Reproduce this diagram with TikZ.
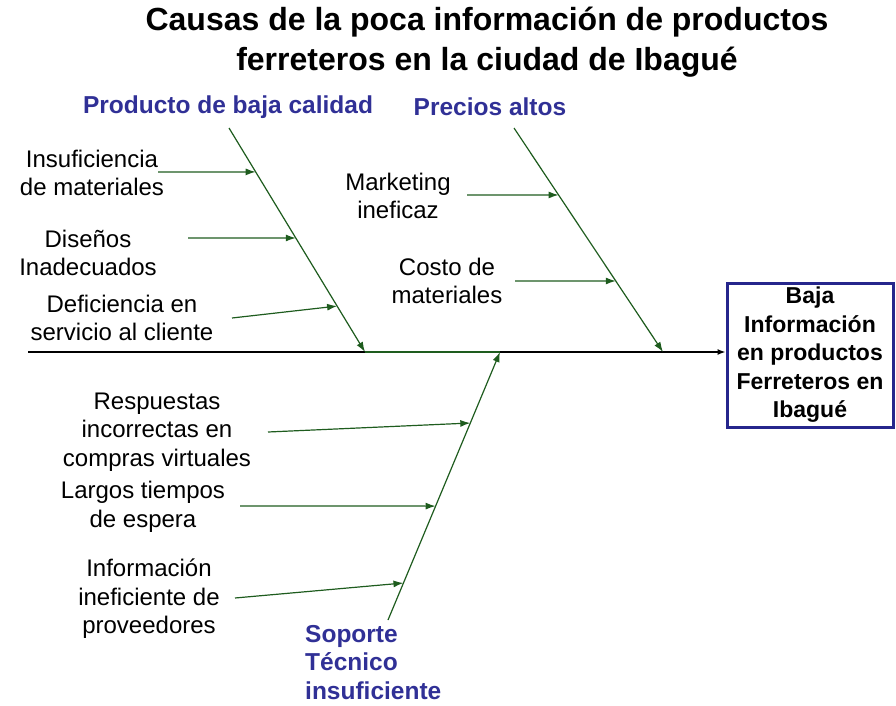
\documentclass[tikz,border=0pt]{standalone}
\usepackage{fontspec}
\setmainfont{Liberation Sans}
\usetikzlibrary{arrows.meta,calc}

\definecolor{rama}{RGB}{30,92,30}
\definecolor{azulcat}{RGB}{48,48,150}
\definecolor{azulbox}{RGB}{38,38,140}

\tikzset{
  causa/.style={align=center,inner sep=0pt,font=\fontsize{24}{28.5}\selectfont},
  categoria/.style={align=center,inner sep=0pt,text=azulcat,font=\fontsize{24.5}{28.5}\selectfont\bfseries},
  espina/.style={rama,line width=1.2pt,-{Latex[length=10pt,width=7pt]}},
}

\begin{document}
\begin{tikzpicture}[x=1pt,y=-1pt]
\useasboundingbox (0,0) rectangle (896,706);

% titulo
\node (titulo) [align=center,inner sep=0pt,font=\fontsize{32}{40}\selectfont\bfseries]
  at (487,42) {Causas de la poca información de productos\\ferreteros en la ciudad de Ibagué};

% efecto
\node (efecto) [draw=azulbox,line width=3pt,minimum width=166pt,minimum height=144pt,
  align=center,inner sep=0pt,font=\fontsize{23}{28.5}\selectfont\bfseries]
  at (810,355) {Baja\\Información\\en productos\\Ferreteros en\\Ibagué};

% espina central
\coordinate (cola) at (28,352);
\draw[line width=1.4pt,-{Latex[length=8pt,width=6pt]}] (cola) -- (efecto.west |- cola);

% ramas
\coordinate (r1a) at (229,128); \coordinate (r1b) at (365,352);
\coordinate (r2a) at (514,128); \coordinate (r2b) at (663,352);
\coordinate (r3a) at (388,620); \coordinate (r3b) at (500,352);
\draw[rama,line width=1.2pt] (r1b) -- (r3b);
\draw[espina] (r1a) -- (r1b);
\draw[espina] (r2a) -- (r2b);
\draw[espina] (r3a) -- (r3b);

\node (cat1) [categoria] at (228,107) {Producto de baja calidad};
\node (cat2) [categoria] at (490,107) {Precios altos};
\node (cat3) [categoria,align=left,anchor=north west] at (305,625) {Soporte\\Técnico\\insuficiente};

% causas: producto
\node (c11) [causa] at (92,173) {Insuficiencia\\de materiales};
\node (c12) [causa] at (88,253) {Diseños\\Inadecuados};
\node (c13) [causa] at (122,318) {Deficiencia en\\servicio al cliente};
\coordinate (s11) at (158,172);
\coordinate (s12) at (188,238);
\coordinate (s13) at (232,318);
\draw[espina] (s11) -- ($(r1a)!0.196!(r1b)$);
\draw[espina] (s12) -- ($(r1a)!0.491!(r1b)$);
\draw[espina] (s13) -- ($(r1a)!0.795!(r1b)$);

% causas: precios
\node (c21) [causa] at (398,196) {Marketing\\ineficaz};
\node (c22) [causa] at (447,281) {Costo de\\materiales};
\coordinate (s21) at (467,195);
\coordinate (s22) at (515,281);
\draw[espina] (s21) -- ($(r2a)!0.299!(r2b)$);
\draw[espina] (s22) -- ($(r2a)!0.683!(r2b)$);

% causas: soporte
\node (c31) [causa] at (157,432) {Respuestas\\incorrectas en\\compras virtuales};
\node (c32) [causa] at (143,507) {Largos tiempos\\de espera};
\node (c33) [causa] at (149,599) {Información\\ineficiente de\\proveedores};
\coordinate (s31) at (268,432);
\coordinate (s32) at (240,506);
\coordinate (s33) at (235,598);
\draw[espina] (s31) -- ($(r3a)!0.735!(r3b)$);
\draw[espina] (s32) -- ($(r3a)!0.425!(r3b)$);
\draw[espina] (s33) -- ($(r3a)!0.138!(r3b)$);
\end{tikzpicture}
\end{document}
